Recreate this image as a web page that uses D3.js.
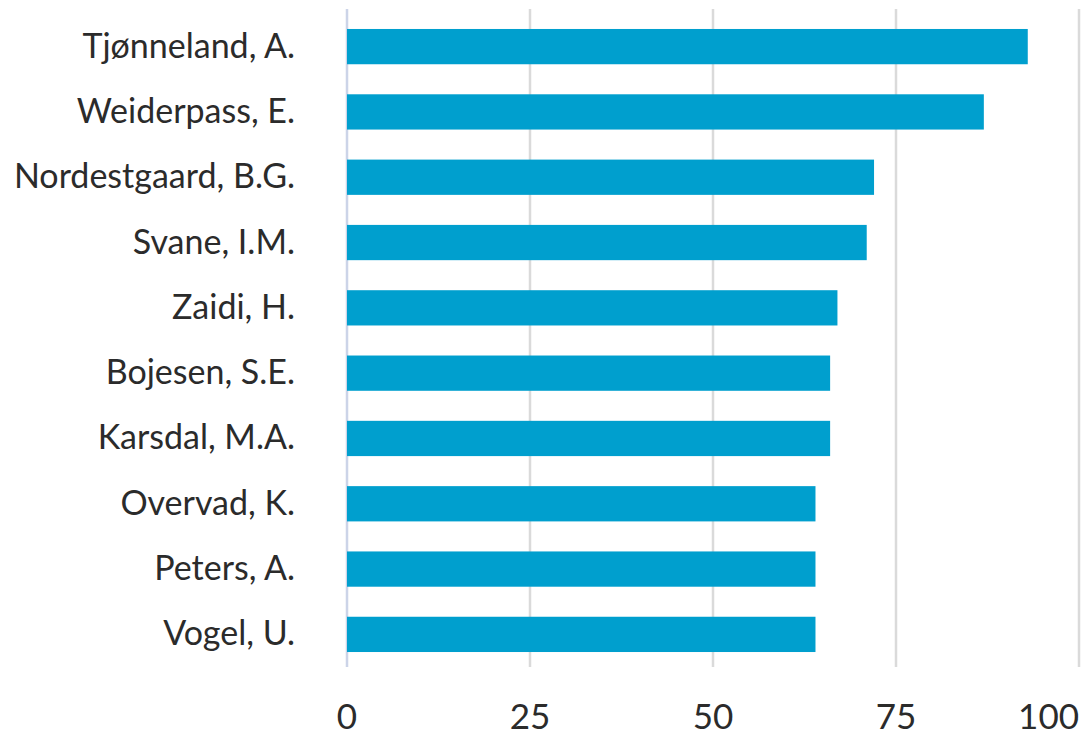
<!DOCTYPE html>
<html>
<head>
<meta charset="utf-8">
</head>
<body style="margin:0;background:white">

<style>
    body { margin: 0; background: white; }
    #view { display: block; }
    .lbl { font-family: Lato, "Open Sans", sans-serif; font-size: 34px; fill: #2b2b2b; }
    .tick { font-family: Lato, "Open Sans", sans-serif; font-size: 35px; fill: #2b2b2b; }
</style>

<svg id='view' width='1086' height='737'></svg>

<script src='https://cdnjs.cloudflare.com/ajax/libs/d3/7.8.5/d3.min.js'></script>

<script>
    // authors and counts, top to bottom
    const authors = ['Tjønneland, A.', 'Weiderpass, E.', 'Nordestgaard, B.G.', 'Svane, I.M.', 'Zaidi, H.',
                     'Bojesen, S.E.', 'Karsdal, M.A.', 'Overvad, K.', 'Peters, A.', 'Vogel, U.'];
    const counts = [93, 87, 72, 71, 67, 66, 66, 64, 64, 64];
    const xTicks = [0, 25, 50, 75, 100];

    const svg = d3.select('#view');

    const x = d3.scaleLinear().domain([0, 100]).range([347, 1079]);
    const y = d3.scaleBand().domain(authors).range([12, 669]).paddingInner(0.46).paddingOuter(0.26);

    // grid lines
    svg.append('g').selectAll('line')
        .data(xTicks)
        .join('line')
        .attr('x1', d => x(d)).attr('x2', d => x(d))
        .attr('y1', 9).attr('y2', 667)
        .attr('stroke', d => d === 0 ? '#ccd4e8' : '#dadada')
        .attr('stroke-width', 2.5);

    // bars
    svg.append('g').selectAll('rect')
        .data(authors)
        .join('rect')
        .attr('x', x(0))
        .attr('y', (d) => y(d))
        .attr('width', (d, i) => x(counts[i]) - x(0))
        .attr('height', y.bandwidth())
        .attr('fill', '#009fce');

    // author labels
    svg.append('g').selectAll('text')
        .data(authors)
        .join('text')
        .attr('class', 'lbl')
        .attr('x', 295)
        .attr('y', d => y(d) + y.bandwidth() / 2 + 11)
        .attr('text-anchor', 'end')
        .text(d => d);

    // x tick labels, last one kept inside the frame
    svg.append('g').selectAll('text')
        .data(xTicks)
        .join('text')
        .attr('class', 'tick')
        .attr('x', d => x(d))
        .attr('y', 729)
        .attr('text-anchor', (d, i) => i === xTicks.length - 1 ? 'end' : 'middle')
        .text(d => d);
</script>

</body>
</html>
